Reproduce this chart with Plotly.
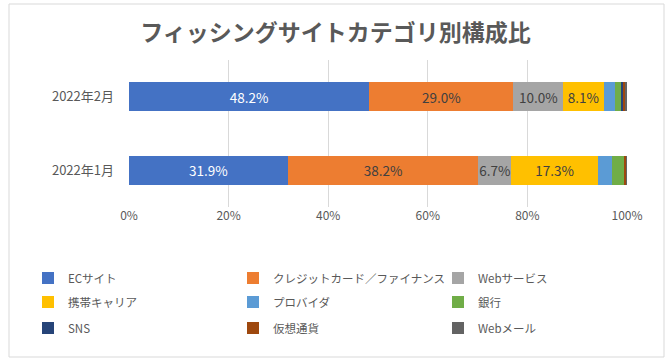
import plotly.graph_objects as go

months = ["2022年1月", "2022年2月"]
series_names = ["ECサイト", "クレジットカード／ファイナンス", "Webサービス",
                "携帯キャリア", "プロバイダ", "銀行", "SNS", "仮想通貨", "Webメール"]
ec = [31.9, 48.2]
credit = [38.2, 29.0]
websvc = [6.7, 10.0]
carrier = [17.3, 8.1]
provider = [2.9, 2.2]
bank = [2.4, 1.4]
sns = [0.1, 0.4]
crypto = [0.4, 0.3]
webmail = [0.1, 0.4]
x_ticks = [0, 20, 40, 60, 80, 100]
x_tick_labels = ["0%", "20%", "40%", "60%", "80%", "100%"]

values = [ec, credit, websvc, carrier, provider, bank, sns, crypto, webmail]
colors = ["#4472C4", "#ED7D31", "#A5A5A5", "#FFC000", "#5B9BD5",
          "#70AD47", "#264478", "#9E480E", "#636363"]
label_colors = ["#FFFFFF"] + ["#404040"] * 8
legends = ["legend", "legend", "legend", "legend2", "legend2", "legend2",
           "legend3", "legend3", "legend3"]

FONT = "Noto Sans CJK JP"
fig = go.Figure()
for name, vals, col, lc, lg in zip(series_names, values, colors, label_colors, legends):
    texts = [f"{v:.1f}%" if v >= 5 else "" for v in vals]
    fig.add_trace(go.Bar(
        y=months, x=vals, name=name, orientation="h",
        marker=dict(color=col, line=dict(width=0)),
        text=texts, textposition="inside", insidetextanchor="middle",
        textangle=0, constraintext="none",
        textfont=dict(color=lc, size=13.5, family=FONT),
        legend=lg,
    ))

leg_common = dict(orientation="h", xanchor="left", yanchor="middle",
                  entrywidth=160, entrywidthmode="pixels",
                  font=dict(size=11.5, color="#595959", family=FONT),
                  bgcolor="rgba(0,0,0,0)", borderwidth=0, traceorder="normal")
L, R, T, B = 129, 44, 60, 155
PW, PH = 671 - L - R, 362 - T - B

def py(pix):
    return (362 - B - pix) / PH

def px(pix):
    return (pix - L) / PW

fig.update_layout(
    width=671, height=362,
    margin=dict(l=L, r=R, t=T, b=B, autoexpand=False),
    paper_bgcolor="white", plot_bgcolor="white",
    barmode="stack", bargap=0.6,
    showlegend=True,
    title=dict(text="<b>フィッシングサイトカテゴリ別構成比</b>", x=0.5, xref="container",
               xanchor="center", y=1 - 33 / 362, yanchor="middle",
               font=dict(size=23, color="#595959", family=FONT)),
    font=dict(family=FONT, color="#595959"),
    xaxis=dict(range=[0, 100], tickvals=x_ticks, ticktext=x_tick_labels,
               showgrid=True, gridcolor="#D9D9D9", gridwidth=1,
               zeroline=False, showline=False, ticks="",
               tickfont=dict(size=12, color="#595959", family=FONT),
               fixedrange=True),
    yaxis=dict(showgrid=False, zeroline=False, showline=False, ticks="",
               ticklabelstandoff=14,
               tickfont=dict(size=13, color="#595959", family=FONT)),
    legend=dict(x=px(28), y=py(278), **leg_common),
    legend2=dict(x=px(28), y=py(302), **leg_common),
    legend3=dict(x=px(28), y=py(328), **leg_common),
    shapes=[dict(type="rect", xref="paper", yref="paper",
                 x0=px(9), x1=px(664), y0=py(357), y1=py(4),
                 line=dict(color="#D9D9D9", width=1), layer="below")],
)

fig.write_html("out.html",
               config={"displayModeBar": False},
               post_script="document.body.style.margin='0';")
